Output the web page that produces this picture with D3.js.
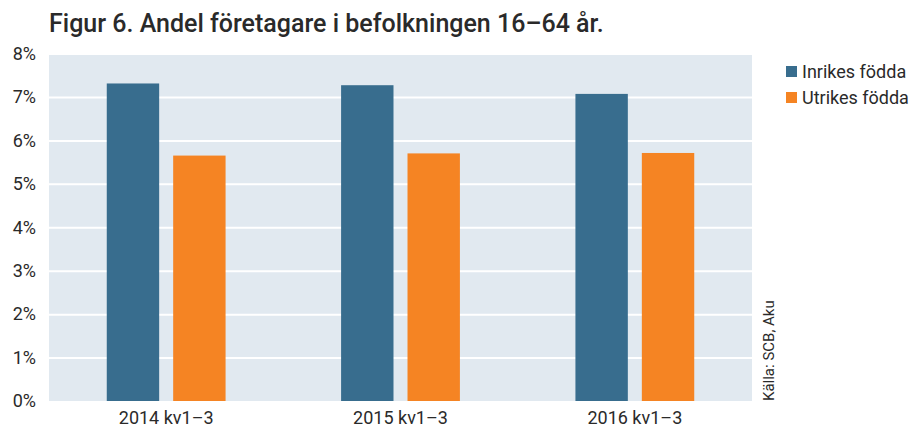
<!DOCTYPE html>
<html>
<head>
<meta charset="utf-8">
<script src="https://cdn.jsdelivr.net/npm/d3@7"></script>
<style>
  body { margin: 0; background: #fff; }
  text { font-family: Roboto, "Open Sans", sans-serif; fill: #2a2a2a; }
  .grid line { stroke: #fff; stroke-width: 2; }
  .grid .domain { display: none; }
  .axis .domain, .axis line { display: none; }
</style>
</head>
<body>
<div class="chart"></div>
<script>
// Data ----------------------------------------------------------------
const categories = ["2014 kv1–3", "2015 kv1–3", "2016 kv1–3"];
const seriesNames = ["Inrikes födda", "Utrikes födda"];
const inrikes = [7.31, 7.27, 7.07];
const utrikes = [5.65, 5.70, 5.71];
const yTicks = [0, 1, 2, 3, 4, 5, 6, 7, 8];
const colors = ["#386d8e", "#f58423"];

const data = categories.map((c, i) => ({
  cat: c,
  values: [
    { key: seriesNames[0], value: inrikes[i] },
    { key: seriesNames[1], value: utrikes[i] }
  ]
}));

// Dimensions ----------------------------------------------------------
const width = 913;
const height = 430;
const margin = { top: 53.5, right: 161, bottom: 29, left: 49 };

const svg = d3.select(".chart")
  .append("svg")
  .attr("width", width)
  .attr("height", height);

// Scales --------------------------------------------------------------
const x0 = d3.scaleBand()
  .domain(categories)
  .range([margin.left, width - margin.right])
  .paddingInner(0.493)
  .paddingOuter(0.2465);

const x1 = d3.scaleBand()
  .domain(seriesNames)
  .range([0, x0.bandwidth()])
  .paddingInner(0.211);

const yScale = d3.scaleLinear()
  .domain([0, 8])
  .range([height - margin.bottom, margin.top]);

const color = d3.scaleOrdinal().domain(seriesNames).range(colors);

// Plot background -----------------------------------------------------
svg.append("rect")
  .attr("x", margin.left)
  .attr("y", margin.top)
  .attr("width", width - margin.left - margin.right)
  .attr("height", height - margin.top - margin.bottom)
  .attr("fill", "#e1e9f0");

// Grid ----------------------------------------------------------------
const yGrid = d3.axisLeft(yScale)
  .tickValues(yTicks.slice(1))
  .tickSize(-(width - margin.left - margin.right))
  .tickFormat("");

svg.append("g")
  .attr("class", "grid")
  .attr("transform", `translate(${margin.left},0)`)
  .call(yGrid);

// Bars ----------------------------------------------------------------
const groups = svg.append("g")
  .selectAll("g")
  .data(data)
  .join("g")
  .attr("transform", d => `translate(${x0(d.cat)},0)`);

groups.selectAll("rect")
  .data(d => d.values)
  .join("rect")
  .attr("x", d => x1(d.key))
  .attr("y", d => yScale(d.value))
  .attr("width", x1.bandwidth())
  .attr("height", d => yScale(0) - yScale(d.value))
  .attr("fill", d => color(d.key));

// Axes ----------------------------------------------------------------
const yAxis = d3.axisLeft(yScale)
  .tickValues(yTicks)
  .tickSize(0)
  .tickPadding(13)
  .tickFormat(d => `${d}%`);

svg.append("g")
  .attr("class", "axis")
  .attr("transform", `translate(${margin.left},0)`)
  .call(yAxis)
  .selectAll("text")
  .attr("font-size", 18)
  .style("fill", "#2a2a2a");

const xAxis = d3.axisBottom(x0).tickSize(0).tickPadding(10);

svg.append("g")
  .attr("class", "axis")
  .attr("transform", `translate(0,${height - margin.bottom})`)
  .call(xAxis)
  .selectAll("text")
  .attr("font-size", 18)
  .style("fill", "#2a2a2a");

// Title ---------------------------------------------------------------
svg.append("text")
  .attr("x", 49)
  .attr("y", 32)
  .attr("font-size", 25)
  .attr("font-weight", 500)
  .text("Figur 6. Andel företagare i befolkningen 16–64 år.");

// Legend --------------------------------------------------------------
const legend = svg.append("g")
  .attr("transform", "translate(786,66)");

const items = legend.selectAll("g")
  .data(seriesNames)
  .join("g")
  .attr("transform", (d, i) => `translate(0,${i * 26})`);

items.append("rect")
  .attr("width", 11)
  .attr("height", 11)
  .attr("fill", d => color(d));

items.append("text")
  .attr("x", 16)
  .attr("y", 11.5)
  .attr("font-size", 18)
  .text(d => d);

// Source --------------------------------------------------------------
svg.append("text")
  .attr("transform", "translate(774,401) rotate(-90)")
  .attr("font-size", 15)
  .text("Källa: SCB, Aku");
</script>
</body>
</html>
